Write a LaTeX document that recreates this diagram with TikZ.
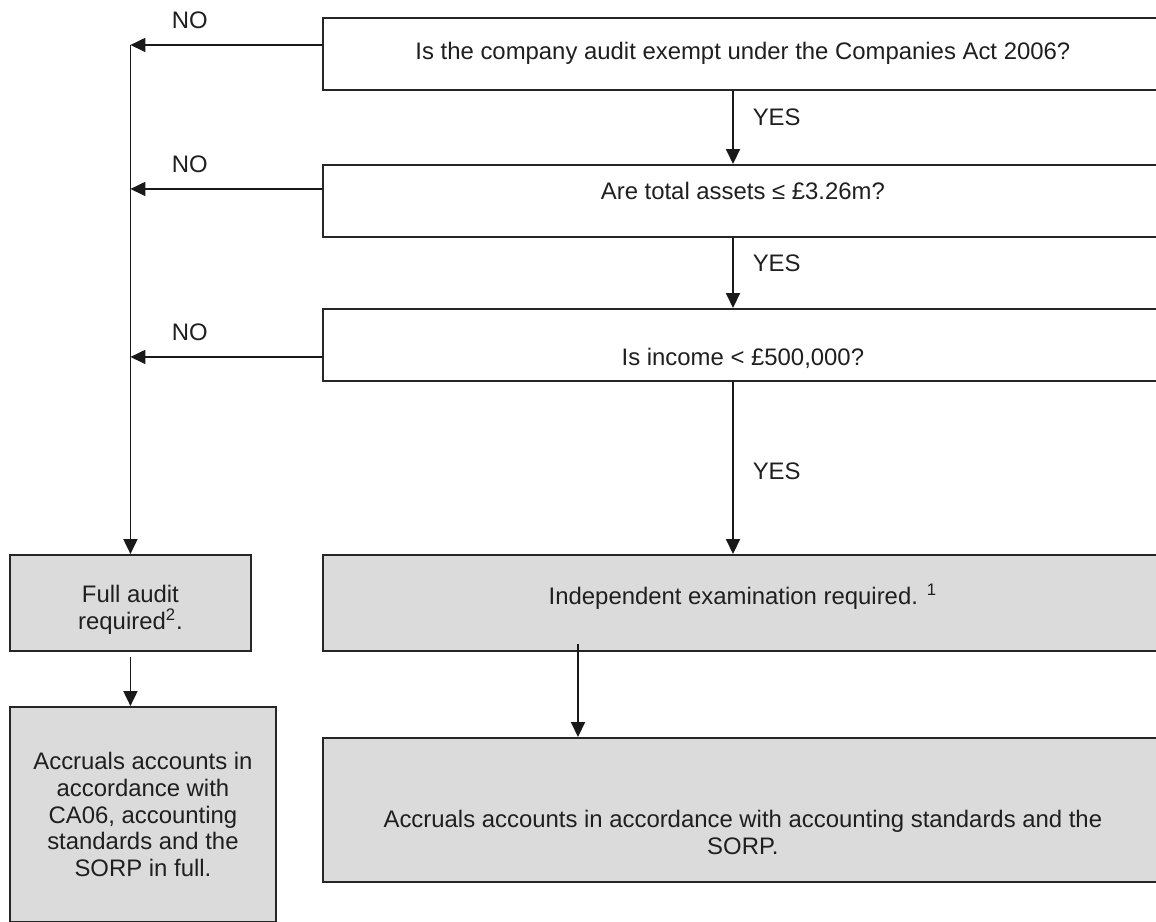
\documentclass[tikz,border=0pt]{standalone}
\usepackage{fontspec}
\setmainfont{Liberation Sans}
\usetikzlibrary{arrows.meta}
\begin{document}
\begin{tikzpicture}[x=0.02cm,y=-0.02cm,>={Triangle[length=8.5pt,width=8pt]},
  every node/.style={font=\fontsize{13.6pt}{15.2pt}\selectfont,text=black!88},
  box/.style={draw=black!85,line width=1.1pt,inner sep=0pt,align=center,anchor=north west},
  qbox/.style={box,fill=white,minimum width=16.8cm},
  gbox/.style={box,fill=black!14},
  arr/.style={->,line width=0.9pt,draw=black!90},
  nolbl/.style={above=0.31cm,inner sep=0pt},
  yeslbl/.style={anchor=west,inner sep=0pt,xshift=0.38cm}]
\useasboundingbox (0,0) rectangle (1156,922);
\clip (0,0) rectangle (1156,922);
% cac o cau hoi
\node[qbox,text height=0.832cm,text depth=0.608cm] (q1) at (322,17) {Is the company audit exempt under the Companies Act 2006?};
\node[qbox,text height=0.692cm,text depth=0.748cm] (q2) at (322,164) {Are total assets ≤ £3.26m?};
\node[qbox,text height=1.132cm,text depth=0.308cm] (q3) at (322,308) {Is income < £500,000?};
% cac o ket qua (to xam)
\node[gbox,minimum width=16.8cm,text height=0.992cm,text depth=0.928cm] (ind) at (322,554) {Independent examination required. \textsuperscript{1}};
\node[gbox,minimum width=16.8cm,text height=2.332cm,text depth=0.548cm] (acc) at (322,737) {Accruals accounts in accordance with accounting standards and the\\SORP.};
\node[gbox,minimum width=4.82cm,text height=1.492cm,text depth=0.428cm] (full) at (9,554) {Full audit\\required\textsuperscript{2}.};
\node[gbox,minimum width=5.32cm,text height=3.392cm,text depth=0.908cm] (lacc) at (9,706) {Accruals accounts in\\accordance with\\CA06, accounting\\standards and the\\SORP in full.};
% toa do phu
\coordinate (yes) at (733,0);
\coordinate (rx) at (578,0);
\coordinate (n1) at ([yshift=0.18cm]q1.west -| full.north);
\coordinate (n2) at ([yshift=0.24cm]q2.west -| full.north);
\coordinate (n3) at ([yshift=-0.24cm]q3.west -| full.north);
% nhanh YES
\draw[arr] (q1.south -| yes) -- node[yeslbl,pos=0.36]{YES} (q2.north -| yes);
\draw[arr] (q2.south -| yes) -- node[yeslbl,pos=0.36]{YES} (q3.north -| yes);
\draw[arr] (q3.south -| yes) -- node[yeslbl,pos=0.52]{YES} (ind.north -| yes);
% nhanh NO
\draw[arr] ([yshift=0.18cm]q1.west) -- node[nolbl,pos=0.69]{NO} (n1);
\draw[arr] ([yshift=0.24cm]q2.west) -- node[nolbl,pos=0.69]{NO} (n2);
\draw[arr] ([yshift=-0.24cm]q3.west) -- node[nolbl,pos=0.69]{NO} (n3);
\draw[arr] (n1) -- (full.north);
% xuong cac o cuoi
\draw[arr,shorten <=0.1cm] (full.south) -- (lacc.north -| full.south);
\draw[arr,shorten <=-0.16cm] (ind.south -| rx) -- (acc.north -| rx);
\end{tikzpicture}
\end{document}
